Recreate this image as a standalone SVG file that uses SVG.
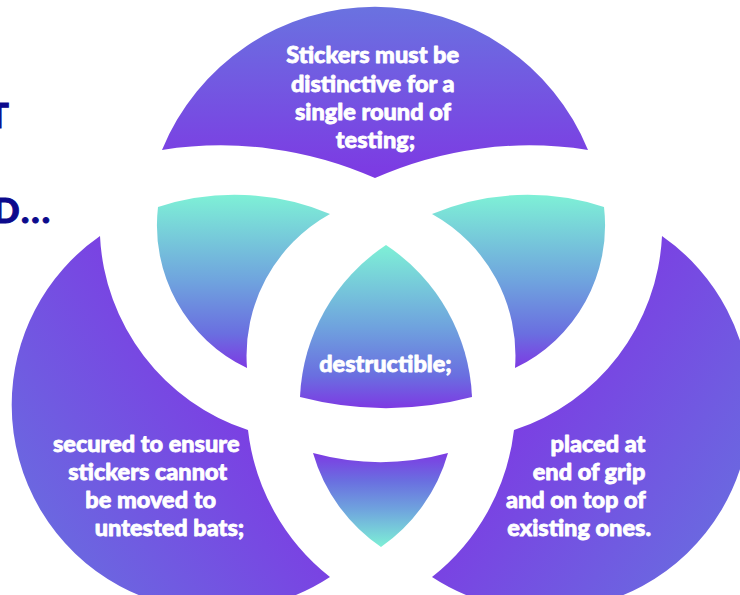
<svg xmlns="http://www.w3.org/2000/svg" width="740" height="595" viewBox="0 0 740 595">
  <style>
    .t{font-family:Lato,"Noto Sans","Liberation Sans",sans-serif;font-weight:900;font-size:23.5px;fill:#ffffff;stroke:#ffffff;stroke-width:0.8px;stroke-linejoin:round}
    .title{font-family:Lato,"Noto Sans","Liberation Sans",sans-serif;font-weight:900;font-size:35px;fill:#0c0a8c;stroke:#0c0a8c;stroke-width:1px;letter-spacing:2px}
  </style>
  <defs>
    <linearGradient id="gTop" gradientUnits="userSpaceOnUse" x1="375" y1="7" x2="375" y2="178">
      <stop offset="0" stop-color="#6a72e0"/>
      <stop offset="1" stop-color="#7d39e3"/>
    </linearGradient>
    <linearGradient id="gLensL" gradientUnits="userSpaceOnUse" x1="0" y1="195" x2="0" y2="368">
      <stop offset="0" stop-color="#7ef0d6"/>
      <stop offset="0.5" stop-color="#6fa3de"/>
      <stop offset="0.8" stop-color="#6a6fe0"/>
      <stop offset="1" stop-color="#7d3ae3"/>
    </linearGradient>
    <linearGradient id="gCenter" gradientUnits="userSpaceOnUse" x1="0" y1="245" x2="0" y2="408">
      <stop offset="0" stop-color="#7ef0d6"/>
      <stop offset="0.5" stop-color="#6fa3de"/>
      <stop offset="0.8" stop-color="#6a6fe0"/>
      <stop offset="1" stop-color="#7d3ae3"/>
    </linearGradient>
    <linearGradient id="gBottom" gradientUnits="userSpaceOnUse" x1="0" y1="453" x2="0" y2="547">
      <stop offset="0" stop-color="#7d3ae3"/>
      <stop offset="0.3" stop-color="#6a6fe0"/>
      <stop offset="0.6" stop-color="#6fa3de"/>
      <stop offset="1" stop-color="#7ef0d6"/>
    </linearGradient>
    <linearGradient id="gLeft" gradientUnits="userSpaceOnUse" x1="260" y1="390" x2="40" y2="540">
      <stop offset="0" stop-color="#7d3ae3"/>
      <stop offset="1" stop-color="#6a6ae0"/>
    </linearGradient>
    <linearGradient id="gRight" gradientUnits="userSpaceOnUse" x1="502" y1="390" x2="722" y2="540">
      <stop offset="0" stop-color="#7d3ae3"/>
      <stop offset="1" stop-color="#6a6ae0"/>
    </linearGradient>
  </defs>

  <rect width="740" height="595" fill="#ffffff"/>

  <g id="title-fragments">
    <text class="title" x="11" y="128" text-anchor="end">T</text>
    <text class="title" x="52" y="223" text-anchor="end">D...</text>
  </g>

  <g id="top">
    <path d="M162,150 A230,230 0 0 1 588,150 A380,380 0 0 0 375,178 A380,380 0 0 0 162,150 Z" fill="url(#gTop)"/>
    <text class="t" text-anchor="middle">
      <tspan x="375.5" y="63">Stickers must be</tspan>
      <tspan x="375.5" y="91.5">distinctive for a</tspan>
      <tspan x="375.5" y="119.5">single round of</tspan>
      <tspan x="375.5" y="147.5">testing;</tspan>
    </text>
  </g>

  <g id="lens-left">
    <path d="M158,207 A247,247 0 0 1 330,214 A162,162 0 0 0 247,368 A158,158 0 0 1 158,207 Z" fill="url(#gLensL)"/>
  </g>

  <g id="lens-right">
    <path d="M432,214 A247,247 0 0 1 604,207 A158,158 0 0 1 515,368 A162,162 0 0 0 432,214 Z" fill="url(#gLensL)"/>
  </g>

  <g id="center">
    <path d="M386,245 A192,192 0 0 1 472,397 A342,342 0 0 1 300,397 A192,192 0 0 1 386,245 Z" fill="url(#gCenter)"/>
    <text class="t" x="385.5" y="372" text-anchor="middle">destructible;</text>
  </g>

  <g id="lens-bottom">
    <path d="M313,453 A258,258 0 0 0 448,453 A171,171 0 0 1 381,547 A171,171 0 0 1 313,453 Z" fill="url(#gBottom)"/>
  </g>

  <g id="left">
    <path d="M100,236 A215,215 0 0 0 248,430 A219,219 0 0 0 330,577 A205.6,205.6 0 0 1 11.7,405 A205.6,205.6 0 0 1 100,236 Z" fill="url(#gLeft)"/>
    <text class="t" text-anchor="middle">
      <tspan x="149" y="451.5">secured to ensure</tspan>
      <tspan x="150.5" y="480">stickers cannot</tspan>
      <tspan x="153.5" y="508">be moved to</tspan>
      <tspan x="169.5" y="536">untested bats;</tspan>
    </text>
  </g>

  <g id="right">
    <path d="M662,236 A205.6,205.6 0 0 1 750.3,405 A205.6,205.6 0 0 1 432,577 A219,219 0 0 0 514,430 A215,215 0 0 0 662,236 Z" fill="url(#gRight)"/>
    <text class="t" text-anchor="end">
      <tspan x="651" y="451.5">placed at</tspan>
      <tspan x="651" y="480">end of grip</tspan>
      <tspan x="651" y="508">and on top of</tspan>
      <tspan x="651" y="536">existing ones.</tspan>
    </text>
  </g>

  <g id="connectors"/>
</svg>
